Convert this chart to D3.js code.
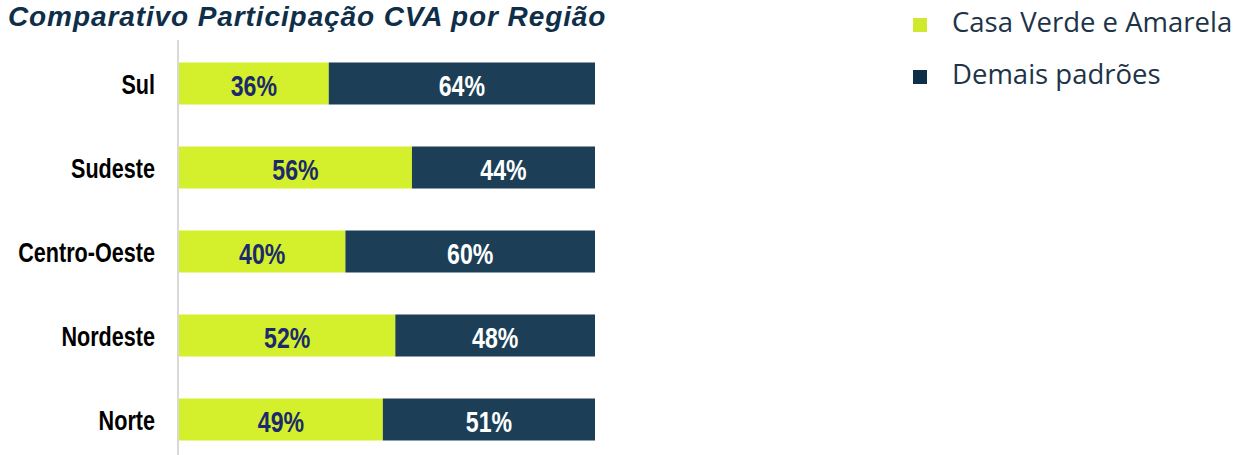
<!DOCTYPE html>
<html><head><meta charset="utf-8">
<script src="https://cdn.jsdelivr.net/npm/d3@7"></script>
<style>body{margin:0;background:#fff}svg{display:block}</style>
</head><body>
<svg id="c" width="1237" height="455"></svg>
<script>
const categories = ["Sul","Sudeste","Centro-Oeste","Nordeste","Norte"];
const casaVerde = [36,56,40,52,49];
const demais = [64,44,60,48,51];
const seriesNames = ["Casa Verde e Amarela","Demais padrões"];
const title = "Comparativo Participação CVA por Região";

const svg = d3.select("#c");
const green = "#d4f02c", dark = "#1c3f57";
const x = d3.scaleLinear().domain([0,100]).range([179,595]);
const y = d3.scaleBand().domain(categories).range([41.5,461.5]).paddingInner(0.5).paddingOuter(0.25);
const sans = "Liberation Sans, Arial, sans-serif";

svg.append("text").attr("x",8).attr("y",25.5)
  .attr("font-family",sans).attr("font-weight","bold").attr("font-style","italic")
  .attr("font-size",28).attr("letter-spacing",0.9).attr("fill","#0f2e48").text(title);

svg.append("line").attr("x1",178).attr("x2",178).attr("y1",40).attr("y2",455)
  .attr("stroke","#d9d9d9").attr("stroke-width",2);

function narrow(sel, px, py, k){
  return sel.attr("transform",`translate(${px},${py}) scale(${k},1)`);
}

const g = svg.append("g");
categories.forEach((c,i)=>{
  const y0 = y(c), h = y.bandwidth(), cy = y0 + h/2;
  g.append("rect").attr("x",x(0)).attr("y",y0).attr("width",x(casaVerde[i])-x(0)).attr("height",h).attr("fill",green);
  g.append("rect").attr("x",x(casaVerde[i])).attr("y",y0).attr("width",x(casaVerde[i]+demais[i])-x(casaVerde[i])).attr("height",h).attr("fill",dark);
  narrow(g.append("text"),(x(0)+x(casaVerde[i]))/2, cy+12.5, 0.77)
    .attr("text-anchor","middle").attr("font-family",sans).attr("font-weight","bold").attr("font-size",30)
    .attr("fill","#1a2a6c").text(casaVerde[i]+"%");
  narrow(g.append("text"),(x(casaVerde[i])+x(100))/2, cy+12.5, 0.77)
    .attr("text-anchor","middle").attr("font-family",sans).attr("font-weight","bold").attr("font-size",30)
    .attr("fill","#ffffff").text(demais[i]+"%");
  narrow(g.append("text"),155, cy+10, 0.8)
    .attr("text-anchor","end").attr("font-family",sans).attr("font-weight","bold").attr("font-size",27)
    .attr("fill","#000").text(c);
});

const leg = svg.append("g");
const legColors = ["#cfe92f", "#0f2e48"];
seriesNames.forEach((s,i)=>{
  const base = 32 + i*52;
  leg.append("rect").attr("x",913).attr("y",base-14).attr("width",14).attr("height",14).attr("fill",legColors[i]);
  leg.append("text").attr("x",952).attr("y",base)
    .attr("font-family","Open Sans, sans-serif").attr("font-size",27.5).attr("fill","#1d3448").text(s);
});
</script>
</body></html>
